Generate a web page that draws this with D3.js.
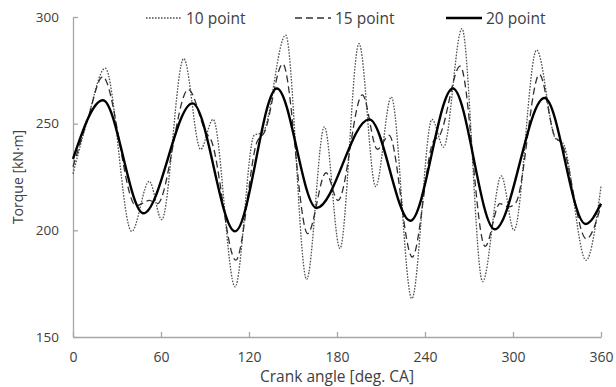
<!DOCTYPE html>
<html>
<head>
<meta charset="utf-8">
<script src="https://cdn.jsdelivr.net/npm/d3@7"></script>
<style>
  html, body { margin: 0; padding: 0; background: #fff; }
  svg { display: block; }
  text { font-family: "Open Sans", "Noto Sans", sans-serif; fill: #404040; }
</style>
</head>
<body>
<svg id="chart" width="616" height="387"></svg>
<script>
// ---- data ----
const xTicks = [0, 60, 120, 180, 240, 300, 360];
const yTicks = [150, 200, 250, 300];
const seriesNames = ["10 point", "15 point", "20 point"];

const angle10 = [0, 10, 22, 40, 52, 60.5, 75.5, 87, 95.5, 110.5, 123.5, 129.5, 145, 159.3, 171.4, 182, 195, 206.4, 217, 231, 244.8, 252.7, 265.2, 279.3, 292, 300.7, 316.1, 329, 334, 349.8, 360];
const torque10 = [226.5, 252, 276, 199.5, 223, 205, 280.5, 238, 252, 173.5, 244.5, 246, 291.5, 177, 248.5, 191.5, 287.5, 220.5, 262.5, 168, 252, 239, 294.5, 176, 225.5, 200, 284.5, 243, 241, 186, 220.5];

const angle15 = [0, 10, 20.2, 43, 52, 57.5, 78.6, 91, 94, 111, 125.5, 130.5, 143, 160, 172.5, 180.7, 197.3, 207.5, 215.5, 231.3, 245.5, 250, 264, 281, 291, 297, 302, 318, 328.5, 333, 350, 360];
const torque15 = [229.8, 252, 272, 211.5, 214, 212.5, 266, 245.5, 242.5, 186, 241.5, 246, 278, 198.5, 227, 214, 263.5, 238, 244.5, 187.5, 241.5, 244.5, 277, 192.5, 212.5, 211, 213, 273, 244, 241, 196, 211.5];

const angle20 = [0, 20.4, 48, 81.5, 110.5, 139, 166, 202, 230, 259, 287.5, 321.5, 349.5, 360];
const torque20 = [233.5, 261, 208, 259.5, 199.5, 266.5, 210.5, 252, 204.5, 266.5, 200.5, 262, 203, 212.5];

// ---- layout ----
const svg = d3.select("#chart");
const x = d3.scaleLinear().domain([0, 360]).range([73, 601]);
const y = d3.scaleLinear().domain([150, 300]).range([337, 17]);
const axisColor = "#a6a6a6";

// axes
const gx = svg.append("g")
  .attr("transform", `translate(0,${y(150)})`)
  .call(d3.axisBottom(x).tickValues(xTicks).tickSizeInner(-5).tickSizeOuter(0).tickPadding(15).tickFormat(d3.format("d")));
const gy = svg.append("g")
  .attr("transform", `translate(${x(0)},0)`)
  .call(d3.axisLeft(y).tickValues(yTicks).tickSizeInner(-5).tickSizeOuter(0).tickPadding(14).tickFormat(d3.format("d")));
[gx, gy].forEach(g => {
  g.select(".domain").attr("stroke", axisColor).attr("stroke-width", 1.3);
  g.selectAll(".tick line").attr("stroke", axisColor).attr("stroke-width", 1.3);
  g.selectAll(".tick text").attr("fill", "#404040").style("font-family", '"Open Sans", sans-serif');
});
gx.selectAll(".tick text").style("font-size", "14px");
gy.selectAll(".tick text").style("font-size", "13.5px");

// axis titles
svg.append("text")
  .attr("x", 337).attr("y", 382)
  .attr("text-anchor", "middle")
  .style("font-size", "15.5px")
  .text("Crank angle [deg. CA]");
svg.append("text")
  .attr("transform", "translate(23,177) rotate(-90)")
  .attr("text-anchor", "middle")
  .style("font-size", "14px")
  .text("Torque [kN·m]");

// lines
const styles = [
  { stroke: "#505050", width: 1.3, dash: "1.6,1.4" },
  { stroke: "#303030", width: 1.3, dash: "7,4" },
  { stroke: "#000000", width: 2.4, dash: null }
];
const data = [
  angle10.map((a, i) => [a, torque10[i]]),
  angle15.map((a, i) => [a, torque15[i]]),
  angle20.map((a, i) => [a, torque20[i]])
];
const line = d3.line().x(d => x(d[0])).y(d => y(d[1])).curve(d3.curveMonotoneX);
data.forEach((d, i) => {
  svg.append("path")
    .datum(d)
    .attr("fill", "none")
    .attr("stroke", styles[i].stroke)
    .attr("stroke-width", styles[i].width)
    .attr("stroke-dasharray", styles[i].dash)
    .attr("d", line);
});

// legend
const legendX = [146, 295, 446];
const legend = svg.append("g");
seriesNames.forEach((name, i) => {
  const lx = legendX[i];
  legend.append("line")
    .attr("x1", lx).attr("x2", lx + 36)
    .attr("y1", 18).attr("y2", 18)
    .attr("stroke", styles[i].stroke)
    .attr("stroke-width", styles[i].width)
    .attr("stroke-dasharray", styles[i].dash);
  legend.append("text")
    .attr("x", lx + 40).attr("y", 23.5)
    .style("font-size", "15.5px")
    .attr("fill", "#303030")
    .text(name);
});
</script>
</body>
</html>
